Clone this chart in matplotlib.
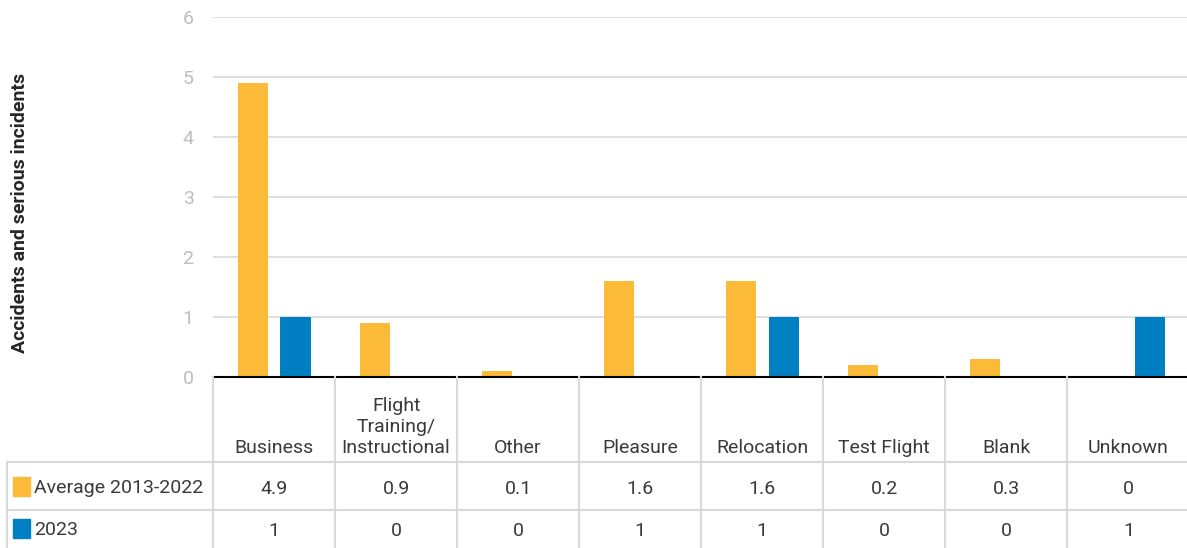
import numpy as np
import matplotlib
matplotlib.use('Agg')
import matplotlib.pyplot as plt
from matplotlib.patches import Rectangle
import matplotlib.transforms as mtransforms

categories = ['Business', 'Flight\nTraining/\nInstructional', 'Other', 'Pleasure',
              'Relocation', 'Test Flight', 'Blank', 'Unknown']
avg_2013_2022 = [4.9, 0.9, 0.1, 1.6, 1.6, 0.2, 0.3, 0]
# bars as drawn in the source (Pleasure 2023 bar is absent there)
y2023 = [1, 0, 0, 0, 1, 0, 0, 1]
avg_labels = ['4.9', '0.9', '0.1', '1.6', '1.6', '0.2', '0.3', '0']
y2023_labels = ['1', '0', '0', '1', '1', '0', '0', '1']
series_names = ['Average 2013-2022', '2023']

ORANGE = '#FBBA38'
BLUE = '#0080C3'
GRID = '#d9d9d9'
TEXT = '#3a3a3a'

plt.rcParams['font.family'] = ['Roboto', 'DejaVu Sans']

W, H = 1187, 548
fig = plt.figure(figsize=(W / 100, H / 100), dpi=100)


def fy(py):
    # pixel row -> figure fraction
    return 1 - py / H


ax = fig.add_axes([213 / W, fy(377), 1 - 213 / W + 0.002, (377 - 17) / H])

x = np.arange(len(categories))
w = 0.246
ax.bar(x - 0.176, avg_2013_2022, w, color=ORANGE, zorder=3)
ax.bar(x + 0.176, y2023, w, color=BLUE, zorder=3)

ax.set_xlim(-0.5, len(categories) - 0.5)
ax.set_ylim(0, 6)
ax.set_yticks(range(0, 7))
ax.yaxis.grid(True, color=GRID, linewidth=1.2)
ax.set_axisbelow(True)
ax.tick_params(axis='y', length=0, labelsize=14, labelcolor='#bdbdbd', pad=14)
ax.tick_params(axis='x', length=0, labelbottom=False)
for s in ['top', 'right', 'left']:
    ax.spines[s].set_visible(False)
ax.spines['bottom'].set_color('black')
ax.spines['bottom'].set_linewidth(1.5)
ax.spines['bottom'].set_zorder(4)

fig.text(20 / W, fy(213), 'Accidents and serious incidents', rotation=90,
         ha='center', va='center', fontsize=14, fontweight='bold', color='#262626')

# data table under the axis
trans = mtransforms.blended_transform_factory(ax.transData, fig.transFigure)
row1_top, row2_top = 462, 510
for b in np.arange(-0.5, len(categories) - 0.4, 1.0):
    fig.add_artist(plt.Line2D([b, b], [fy(377), 0], transform=trans,
                              color=GRID, linewidth=1.5))
for py in (row1_top, row2_top):
    fig.add_artist(plt.Line2D([7 / W, 1], [fy(py), fy(py)],
                              transform=fig.transFigure, color=GRID, linewidth=1.5))
fig.add_artist(plt.Line2D([7 / W, 7 / W], [fy(row1_top), 0],
                          transform=fig.transFigure, color=GRID, linewidth=1.5))

FS = 14
for i, cat in enumerate(categories):
    fig.text(x[i], fy(457), cat, transform=trans, ha='center', va='bottom',
             fontsize=FS, color=TEXT, linespacing=1.2)
    fig.text(x[i], fy(489), avg_labels[i], transform=trans, ha='center',
             va='center', fontsize=FS, color=TEXT)
    fig.text(x[i], fy(531), y2023_labels[i], transform=trans, ha='center',
             va='center', fontsize=FS, color=TEXT)

for name, col, cy in zip(series_names, [ORANGE, BLUE], [487, 529]):
    fig.add_artist(Rectangle((13 / W, fy(cy + 9)), 17 / W, 19 / H,
                             transform=fig.transFigure, color=col))
    fig.text(34 / W, fy(cy + 1), name, ha='left', va='center', fontsize=FS,
             color=TEXT)

fig.savefig('out.png', dpi=100)
